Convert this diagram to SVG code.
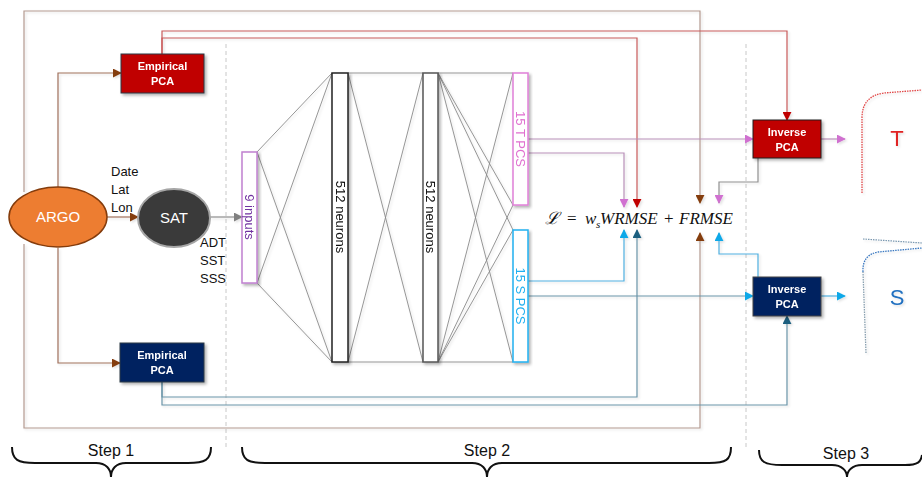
<svg xmlns="http://www.w3.org/2000/svg" width="922" height="477" viewBox="0 0 922 477">
<defs>
<filter id="sh" x="-20%" y="-20%" width="150%" height="150%"><feDropShadow dx="2" dy="2" stdDeviation="1.5" flood-color="#000" flood-opacity="0.3"/></filter>
<filter id="lsh" x="-5%" y="-5%" width="110%" height="110%"><feDropShadow dx="1.5" dy="1.5" stdDeviation="1.2" flood-color="#000" flood-opacity="0.12"/></filter>
<marker id="aBr" viewBox="0 0 10 10" refX="9" refY="5" markerWidth="9" markerHeight="9" markerUnits="userSpaceOnUse" orient="auto"><path d="M0,0 L10,5 L0,10 z" fill="#843c0c"/></marker>
<marker id="aRed" viewBox="0 0 10 10" refX="9" refY="5" markerWidth="9" markerHeight="9" markerUnits="userSpaceOnUse" orient="auto"><path d="M0,0 L10,5 L0,10 z" fill="#c00000"/></marker>
<marker id="aPk" viewBox="0 0 10 10" refX="9" refY="5" markerWidth="9" markerHeight="9" markerUnits="userSpaceOnUse" orient="auto"><path d="M0,0 L10,5 L0,10 z" fill="#d070d0"/></marker>
<marker id="aCy" viewBox="0 0 10 10" refX="9" refY="5" markerWidth="9" markerHeight="9" markerUnits="userSpaceOnUse" orient="auto"><path d="M0,0 L10,5 L0,10 z" fill="#10a8e8"/></marker>
<marker id="aNv" viewBox="0 0 10 10" refX="9" refY="5" markerWidth="9" markerHeight="9" markerUnits="userSpaceOnUse" orient="auto"><path d="M0,0 L10,5 L0,10 z" fill="#1f5f7f"/></marker>
<marker id="aGr" viewBox="0 0 10 10" refX="9" refY="5" markerWidth="9" markerHeight="9" markerUnits="userSpaceOnUse" orient="auto"><path d="M0,0 L10,5 L0,10 z" fill="#808080"/></marker>
</defs>
<style>
.c{fill:none;stroke-width:1.2}
.br{stroke:#a0705a}
.lb{stroke:#b49a90}
.rd{stroke:#c85a5a}
.pk{stroke:#b890b8}
.cy{stroke:#50b0e0}
.nv{stroke:#6a94a8}
.gy{stroke:#909090}
.nn{stroke:#8a8a8a;stroke-width:0.9;fill:none}
.dash{stroke:#c8c8c8;stroke-width:1;stroke-dasharray:4,3}
.bt{font-family:"Liberation Sans",Arial,sans-serif;font-weight:bold;font-size:11px;fill:#fff;text-anchor:middle}
.lab{font-family:"Liberation Sans",Arial,sans-serif;font-size:13px;fill:#111}
.rot{font-family:"Liberation Sans",Arial,sans-serif;font-size:13px;text-anchor:middle}
.step{font-family:"Liberation Sans",Arial,sans-serif;font-size:16px;fill:#111;text-anchor:middle}
.brace{fill:none;stroke:#111;stroke-width:2}
.fm{font-family:"Liberation Serif","DejaVu Serif",serif;font-size:17px;fill:#111}
</style>
<rect width="922" height="477" fill="#fff"/>
<g id="dividers">
<line class="dash" x1="226" y1="44" x2="226" y2="447"/>
<line class="dash" x1="746" y1="44" x2="746" y2="447"/>
</g>
<g id="connectors" filter="url(#lsh)">
<path class="c lb" d="M24,192 V11 H700 V203" marker-end="url(#aBr)"/>
<path class="c lb" d="M24,244 V428 H700 V233" marker-end="url(#aBr)"/>
<path class="c br" d="M58,187 V73 H121" marker-end="url(#aBr)"/>
<path class="c br" d="M58,248 V363 H120" marker-end="url(#aBr)"/>
<path class="c br" d="M107,217 H138" marker-end="url(#aBr)"/>
<path class="c gy" d="M210,217 H242" marker-end="url(#aGr)"/>
<path class="c rd" d="M162,54 V31 H787 V120" marker-end="url(#aRed)"/>
<path class="c rd" d="M162,54 V38 H637 V207" marker-end="url(#aRed)"/>
<path class="c pk" d="M528,139 H753" marker-end="url(#aPk)"/>
<path class="c pk" d="M528,153 H624 V207" marker-end="url(#aPk)"/>
<path class="c pk" d="M821,139 H845" marker-end="url(#aPk)"/>
<path class="c gy" d="M758,158 V182 H719 V203" marker-end="url(#aPk)"/>
<path class="c cy" d="M528,281 H624 V230" marker-end="url(#aCy)"/>
<path class="c nv" d="M528,296 H753" marker-end="url(#aCy)"/>
<path class="c cy" d="M821,296 H845" marker-end="url(#aCy)"/>
<path class="c cy" d="M758,277 V254 H719 V233" marker-end="url(#aCy)"/>
<path class="c nv" d="M162,382 V397 H637 V230" marker-end="url(#aNv)"/>
<path class="c nv" d="M162,382 V405 H787 V316" marker-end="url(#aNv)"/>
<path class="nn" d="M257,152 L332,73 M257,152 L332,362 M257,283 L332,73 M257,283 L332,362"/>
<path class="nn" d="M348,73 L423,73 M348,73 L423,362 M348,362 L423,73 M348,362 L423,362"/>
<path class="nn" d="M438,73 L513,73 M438,73 L513,205 M438,73 L513,230 M438,73 L513,362 M438,362 L513,73 M438,362 L513,205 M438,362 L513,230 M438,362 L513,362"/>
</g>
<g id="argo"><ellipse cx="58" cy="217" rx="49" ry="30" fill="#ed7d31" stroke="#843c0c" stroke-width="1.5"/><text x="58" y="222" font-family="Liberation Sans,Arial,sans-serif" font-size="15" fill="#fff" text-anchor="middle">ARGO</text></g>
<g id="sat"><ellipse cx="174" cy="218" rx="36" ry="29" fill="#3a3a3a" stroke="#a6a6a6" stroke-width="2"/><text x="174" y="223" font-family="Liberation Sans,Arial,sans-serif" font-size="15" fill="#fff" text-anchor="middle">SAT</text></g>
<g id="satin-labels">
<text class="lab" x="111" y="176">Date</text><text class="lab" x="111" y="194">Lat</text><text class="lab" x="111" y="212">Lon</text>
<text class="lab" x="200" y="247">ADT</text><text class="lab" x="200" y="265">SST</text><text class="lab" x="200" y="283">SSS</text>
</g>
<g id="emp-t" filter="url(#sh)"><rect x="121" y="54" width="83" height="39" fill="#c00000" stroke="#2b3a44" stroke-width="1"/><text class="bt" x="162.5" y="70">Empirical</text><text class="bt" x="162.5" y="85">PCA</text></g>
<g id="emp-s" filter="url(#sh)"><rect x="120" y="343" width="84" height="39" fill="#002060" stroke="#2b3a44" stroke-width="1"/><text class="bt" x="162" y="359">Empirical</text><text class="bt" x="162" y="374">PCA</text></g>
<g id="inputs" filter="url(#sh)"><rect x="242" y="152" width="15" height="131" fill="#fff" stroke="#c080d0" stroke-width="1.5"/><text class="rot" fill="#7030a0" transform="translate(245,217) rotate(90)">9 inputs</text></g>
<g id="layer1" filter="url(#sh)"><rect x="332" y="73" width="16" height="289" fill="#fff" stroke="#222" stroke-width="1.5"/><text class="rot" fill="#111" transform="translate(336,217) rotate(90)">512 neurons</text></g>
<g id="layer2" filter="url(#sh)"><rect x="423" y="73" width="15" height="289" fill="#fff" stroke="#555" stroke-width="1.5"/><text class="rot" fill="#111" transform="translate(426,217) rotate(90)">512 neurons</text></g>
<g id="tpcs" filter="url(#sh)"><rect x="513" y="73" width="15" height="132" fill="#fff" stroke="#e080d8" stroke-width="1.5"/><text class="rot" fill="#e070d0" transform="translate(516,139) rotate(90)">15 T PCS</text></g>
<g id="spcs" filter="url(#sh)"><rect x="513" y="230" width="15" height="132" fill="#fff" stroke="#20b0f0" stroke-width="1.5"/><text class="rot" fill="#20b0f0" transform="translate(516,296) rotate(90)">15 S PCS</text></g>
<g id="loss">
<text class="fm" y="224"><tspan x="545" font-style="italic">ℒ</tspan><tspan x="567">=</tspan><tspan x="585" font-style="italic">w</tspan><tspan x="596" y="228" font-size="11" font-style="italic">s</tspan><tspan x="600" y="224" font-style="italic">WRMSE</tspan><tspan x="664">+</tspan><tspan x="679" font-style="italic">FRMSE</tspan></text>
</g>
<g id="inv-t" filter="url(#sh)"><rect x="753" y="120" width="68" height="38" fill="#c00000" stroke="#222" stroke-width="1"/><text class="bt" x="787" y="136">Inverse</text><text class="bt" x="787" y="151">PCA</text></g>
<g id="inv-s" filter="url(#sh)"><rect x="753" y="277" width="68" height="39" fill="#002060" stroke="#444" stroke-width="1"/><text class="bt" x="787" y="293">Inverse</text><text class="bt" x="787" y="308">PCA</text></g>
<g id="t-profile" filter="url(#lsh)"><path d="M862,193 V118 Q862,96 884,93 L922,90" fill="none" stroke="#e04848" stroke-width="1.3" stroke-dasharray="1.5,1"/><text x="897" y="146" font-family="Liberation Sans,Arial,sans-serif" font-size="22" fill="#e02020" text-anchor="middle">T</text></g>
<g id="s-profile" filter="url(#lsh)"><path d="M863,239 L922,243" fill="none" stroke="#7a98b0" stroke-width="1.2" stroke-dasharray="1.5,1"/><path d="M866,353 L863,272" fill="none" stroke="#8aa0b0" stroke-width="1.3" stroke-dasharray="1.5,1"/><path d="M863,272 Q862,255 878,252 L922,248" fill="none" stroke="#3a78c0" stroke-width="1.3" stroke-dasharray="1.5,1"/><text x="897" y="305" font-family="Liberation Sans,Arial,sans-serif" font-size="22" fill="#2070c0" text-anchor="middle">S</text></g>
<g id="steps">
<path class="brace" d="M12,447 C12,460 18,463 35,463 L96,463 C106,463 111,469 111,477 C111,469 116,463 126,463 L188,463 C205,463 211,460 211,447"/>
<text class="step" x="111" y="456">Step 1</text>
<path class="brace" d="M242,447 C242,460 248,463 265,463 L472,463 C482,463 487,469 487,477 C487,469 492,463 502,463 L709,463 C726,463 731,460 731,447"/>
<text class="step" x="487" y="456">Step 2</text>
<path class="brace" d="M759,450 C759,462 765,465 782,465 L832,465 C842,465 847,471 847,477 C847,471 852,465 862,465 L905,465 C918,465 921,462 922,455"/>
<text class="step" x="846" y="459">Step 3</text>
</g>
</svg>
